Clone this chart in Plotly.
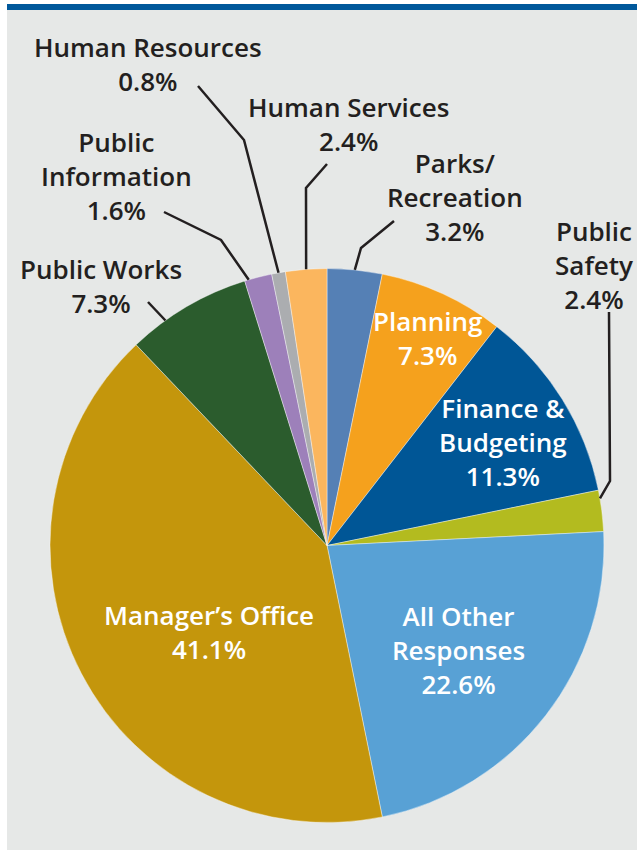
"""Pie chart: share of responses by department."""

import math

import plotly.graph_objects as go

# ---- data -------------------------------------------------------------
departments = [
    "Parks/<br>Recreation",
    "Planning",
    "Finance &<br>Budgeting",
    "Public<br>Safety",
    "All Other<br>Responses",
    "Manager’s Office",
    "Public Works",
    "Public<br>Information",
    "Human Resources",
    "Human Services",
]
shares = [3.2, 7.3, 11.3, 2.4, 22.6, 41.1, 7.3, 1.6, 0.8, 2.4]
colors = [
    "#5580b5", "#f5a11d", "#005696", "#b3bb1f", "#58a1d5",
    "#c4960c", "#2b5c2d", "#9d80ba", "#abadb0", "#fbb65e",
]

# ---- layout (pixels in a 637 x 850 page) ------------------------------
W, H = 637, 850
CX, CY, R = 327, 545.5, 277
TEXT_DARK = "#231f20"

# label centre, inside/outside, and for outside labels the leader line:
# start point near the text, optional elbow, and where on the slice it lands
labels_cfg = {
    "Parks/<br>Recreation": dict(pos=(455, 197), inside=False,
                                 line=[(394, 221), (361, 248)], frac=0.5),
    "Planning": dict(pos=(428, 338), inside=True),
    "Finance &<br>Budgeting": dict(pos=(503, 442), inside=True),
    "Public<br>Safety": dict(pos=(594, 265), inside=False,
                             line=[(609, 312), (610, 481)], frac=0.2),
    "All Other<br>Responses": dict(pos=(459, 650), inside=True),
    "Manager’s Office": dict(pos=(209, 632), inside=True),
    "Public Works": dict(pos=(101, 286), inside=False,
                         line=[(148, 302)], frac=0.3),
    "Public<br>Information": dict(pos=(116, 176), inside=False,
                                  line=[(164, 212), (221, 240)], frac=0.15),
    "Human Resources": dict(pos=(148, 64), inside=False,
                            line=[(198, 86), (244, 140)], frac=0.5),
    "Human Services": dict(pos=(348, 124), inside=False,
                           line=[(327, 164), (306, 188)], frac=0.5),
}


def px(x, y):
    return x / W, 1 - y / H


fig = go.Figure()
fig.add_trace(go.Pie(
    labels=departments, values=shares, sort=False, direction="clockwise",
    rotation=0, marker=dict(colors=colors, line=dict(color="rgba(255,255,255,0.5)", width=0.8)),
    textinfo="none", hoverinfo="label+percent", showlegend=False,
    domain=dict(x=[(CX - R) / W, (CX + R) / W],
                y=[1 - (CY + R) / H, 1 - (CY - R) / H]),
))

shapes = [
    # grey panel and blue rule along the top
    dict(type="rect", xref="paper", yref="paper", x0=7 / W, x1=1, y0=0, y1=1 - 10 / H,
         fillcolor="#e6e8e7", line_width=0, layer="below"),
    dict(type="rect", xref="paper", yref="paper", x0=7 / W, x1=1, y0=1 - 10 / H, y1=1 - 4 / H,
         fillcolor="#00589b", line_width=0, layer="below"),
]
annotations = []

cum = 0.0
total = sum(shares)
for name, val in zip(departments, shares):
    cfg = labels_cfg[name]
    txt = f"{name}<br>{val:.1f}%"
    x, y = px(*cfg["pos"])
    annotations.append(dict(
        text=txt, x=x, y=y, xref="paper", yref="paper", showarrow=False,
        xanchor="center", yanchor="middle", align="center",
        font=dict(family="Open Sans, Lato, sans-serif", size=26, weight=600,
                  color="white" if cfg["inside"] else TEXT_DARK),
    ))
    if not cfg["inside"]:
        ang = 2 * math.pi * (cum + cfg["frac"] * val) / total
        end = (CX + R * math.sin(ang), CY - R * math.cos(ang))
        pts = cfg["line"] + [end]
        path = "M " + " L ".join(f"{px(*p)[0]},{px(*p)[1]}" for p in pts)
        shapes.append(dict(type="path", xref="paper", yref="paper", path=path,
                           line=dict(color=TEXT_DARK, width=2.5)))
    cum += val

fig.update_layout(
    width=W, height=H, margin=dict(l=0, r=0, t=0, b=0),
    paper_bgcolor="white", plot_bgcolor="white",
    shapes=shapes, annotations=annotations,
)
fig.write_html(
    "out.html",
    config=dict(displayModeBar=False),
    post_script="document.body.style.margin='0';document.body.style.overflow='hidden';",
)
